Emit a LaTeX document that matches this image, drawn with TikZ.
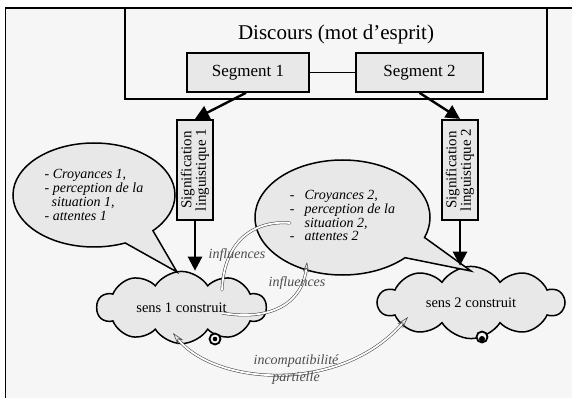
\documentclass[tikz,border=0pt]{standalone}
\usepackage{fontspec}
\setmainfont{Liberation Serif}
\usetikzlibrary{shapes.callouts,shapes.symbols,arrows.meta,positioning}

\begin{document}
\begin{tikzpicture}[x=1pt,y=-1pt,
  seg node/.style={draw,line width=1.6pt,fill=gray!18,minimum height=39,inner sep=0,font=\fontsize{17}{17}\selectfont},
  sig node/.style={draw,line width=2.2pt,fill=gray!18,rotate=90,minimum width=100,minimum height=36,inner sep=1pt,align=center,font=\fontsize{15}{14.5}\selectfont},
  bubble/.style={ellipse callout,draw,line width=1.5pt,fill=gray!18,callout pointer arc=24,inner sep=0,font=\fontsize{14}{13.8}\selectfont\itshape},
  sens/.style={cloud,draw,line width=1.5pt,fill=gray!18,cloud puffs=10,cloud puff arc=115,aspect=2.4,inner sep=0,font=\fontsize{14.5}{14.5}\selectfont},
  big arrow/.style={line width=2.4pt,-{Triangle[length=14pt,width=14pt]}},
  infl/.style={draw=gray!55!black,double=white,double distance=1.8pt,line width=0.55pt},
  infl label/.style={text=black!70,font=\fontsize{14}{17}\selectfont\itshape},
  loop/.style={draw,circle,line width=1.8pt,fill=gray!7,minimum size=11,inner sep=0}]
  \useasboundingbox (0,0) rectangle (572,398);
  \fill[white] (0,0) rectangle (572,398);
  \fill[gray!7] (5.5,8) rectangle (572,398);
  \draw[line width=1.5pt] (5.5,398) -- (5.5,8) -- (572,8);

  % discours
  \node[draw,line width=1.8pt,minimum width=422,minimum height=91,inner sep=0] (disc) at (336,53.5) {};
  \node[font=\fontsize{21}{21}\selectfont] (title) at (336,34) {Discours (mot d’esprit)};
  \node[seg node,minimum width=122] (seg1) at (248,72.5) {Segment 1};
  \node[seg node,minimum width=127] (seg2) at (419.5,72.5) {Segment 2};
  \draw[line width=1.5pt] (seg1) -- (seg2);

  \node[sig node] (sig1) at (195,170) {Signification\\linguistique 1};
  \node[sig node] (sig2) at (460,170) {Signification\\linguistique 2};

  % sens construits
  \node[sens,minimum width=169,minimum height=71] (sens1) at (181.5,307.5) {sens 1 construit};
  \node[sens,minimum width=186,minimum height=69] (sens2) at (471,302.5) {sens 2 construit};
  \node[loop] (loop1) at (215,339) {};
  \fill (loop1) circle (2.3);
  \node[loop] (loop2) at (482,337) {};
  \fill ([yshift=-2]loop2.center) circle (3);

  % croyances
  \coordinate (tip1) at (177,272);
  \coordinate (tip2) at (471,271);
  \node[bubble,minimum width=162,minimum height=104,callout absolute pointer=(tip1),align=left] (bub1) at (94,195)
    {- Croyances 1,\\- perception de la\\\ \ situation 1,\\- attentes 1};
  \node[bubble,minimum width=175,minimum height=115,callout absolute pointer=(tip2)] (bub2) at (342.5,217.5)
    {\begin{tabular}{@{}l@{\hspace{10pt}}l@{}}- & Croyances 2,\\- & perception de la\\ & situation 2,\\- & attentes 2\end{tabular}};

  \draw[big arrow] (seg1.south) ++(-2,0) -- (sig1.east);
  \draw[big arrow] (seg2.south) -- (sig2.east);
  \draw[big arrow] (sig1.west) -- (sig1.west |- sens1.north);
  \draw[big arrow] (sig2.west) -- (sig2.west |- sens2.north);

  % influences
  \coordinate (in1) at (222,290);
  \coordinate (out1) at (290,223);
  \coordinate (in2) at (222,313);
  \coordinate (out2) at (307,262);
  \coordinate (inc1) at (173,333);
  \coordinate (inc2) at (408,317);
  \path[infl,line cap=round] (in1) .. controls (224,240) and (255,220) .. (out1);
  \path[infl,-{Stealth[open,length=10pt,width=6pt]}] (in2) .. controls (275,322) and (303,300) .. (out2);
  \path[infl,{Stealth[open,length=12pt,width=7pt]}-{Stealth[open,length=12pt,width=7pt]}] (inc1) .. controls (215,385) and (340,395) .. (inc2);
  \node[infl label] (lab1) at (237,255) {influences};
  \node[infl label] (lab2) at (297,283) {influences};
  \node[infl label,align=center] (lab3) at (296,370) {incompatibilité\\partielle};
\end{tikzpicture}
\end{document}
